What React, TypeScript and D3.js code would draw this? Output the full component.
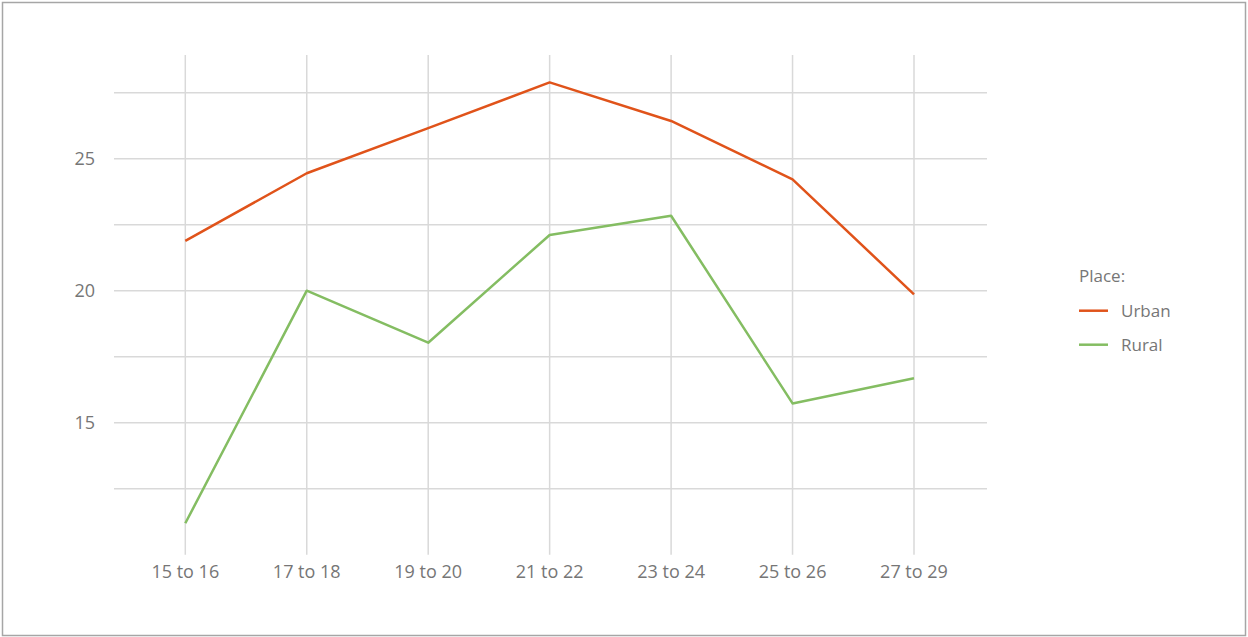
import React from "react";
import * as d3 from "d3";

const categories = ["15 to 16", "17 to 18", "19 to 20", "21 to 22", "23 to 24", "25 to 26", "27 to 29"];
const urban = [21.89, 24.45, 26.16, 27.89, 26.43, 24.22, 19.86];
const rural = [11.19, 20.0, 18.03, 22.11, 22.84, 15.73, 16.68];
const gridValues = [12.5, 15, 17.5, 20, 22.5, 25, 27.5];
const yTickLabels = [15, 20, 25];
const legendTitle = "Place:";
const seriesNames = ["Urban", "Rural"];

const W = 1248;
const H = 637;
const FONT = "'Open Sans', 'DejaVu Sans', sans-serif";
const TEXT = "#767676";
const GRID = "#d9d9d9";
const COLORS = ["#e0531a", "#84bd62"];

export default function App() {
  const x = d3.scalePoint<string>().domain(categories).range([185.3, 914]);
  const y = d3.scaleLinear().domain([15, 25]).range([422.7, 158.7]);
  const plotLeft = 114;
  const plotRight = 987;
  const plotTop = 55;
  const plotBottom = y(10);

  const line = d3
    .line<number>()
    .x((_, i) => x(categories[i]) as number)
    .y((d) => y(d));

  const series = [urban, rural];

  return (
    <svg
      width={W}
      height={H}
      style={{ position: "absolute", left: 0, top: 0, background: "#fff" }}
      fontFamily={FONT}
    >
      <rect x={2.5} y={2.5} width={W - 5} height={H - 4} fill="#fff" stroke="#a6a6a6" strokeWidth={1.5} />
      {gridValues.map((v) => (
        <line key={"h" + v} x1={plotLeft} x2={plotRight} y1={y(v)} y2={y(v)} stroke={GRID} strokeWidth={1.5} />
      ))}
      {categories.map((c) => (
        <line key={"v" + c} x1={x(c)} x2={x(c)} y1={plotTop} y2={plotBottom} stroke={GRID} strokeWidth={1.5} />
      ))}
      {yTickLabels.map((v) => (
        <text key={"yl" + v} x={95} y={y(v)} dy="0.35em" textAnchor="end" fill={TEXT} fontSize={18}>
          {v}
        </text>
      ))}
      {categories.map((c) => (
        <text key={"xl" + c} x={x(c)} y={578} textAnchor="middle" fill={TEXT} fontSize={18}>
          {c}
        </text>
      ))}
      {series.map((s, i) => (
        <path key={"s" + i} d={line(s) || ""} fill="none" stroke={COLORS[i]} strokeWidth={2.5} strokeLinejoin="round" />
      ))}
      <text x={1079} y={282} fill={TEXT} fontSize={17}>
        {legendTitle}
      </text>
      {seriesNames.map((n, i) => (
        <g key={"lg" + n} transform={`translate(1079, ${310.7 + i * 34})`}>
          <line x1={0} x2={29} y1={0} y2={0} stroke={COLORS[i]} strokeWidth={2.5} />
          <text x={42} y={0} dy="0.35em" fill={TEXT} fontSize={17}>
            {n}
          </text>
        </g>
      ))}
    </svg>
  );
}
